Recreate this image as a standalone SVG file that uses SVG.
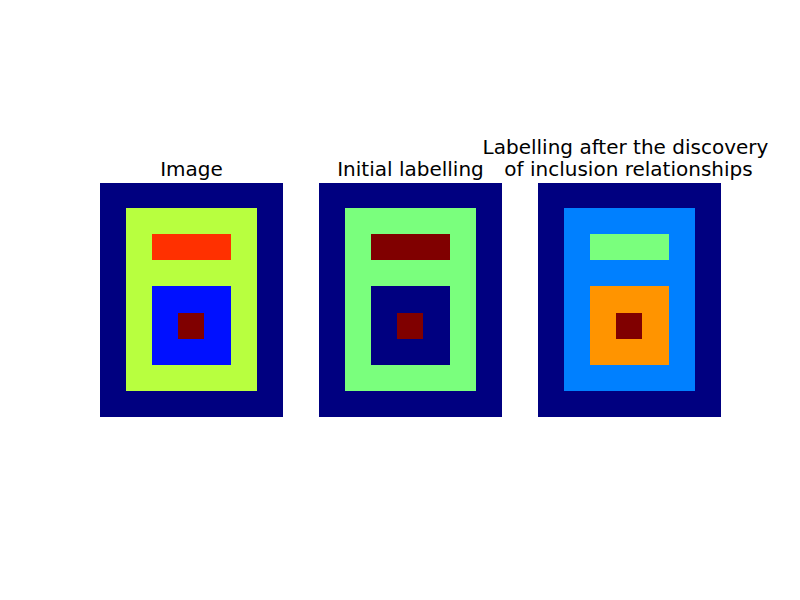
<svg xmlns="http://www.w3.org/2000/svg" width="800" height="600" viewBox="0 0 800 600">
<style>
text{font-family:"DejaVu Sans",sans-serif;font-size:20px;fill:#000;text-anchor:middle}
.n{fill:#000080}.dr{fill:#800000}
</style>
<rect width="800" height="600" fill="#fff"/>
<g id="image">
<text x="191.5" y="176">Image</text>
<rect class="n" x="100" y="183" width="183" height="234"/>
<rect fill="#b8ff3f" x="126" y="208" width="131" height="183"/>
<rect fill="#ff3000" x="152" y="234" width="79" height="26"/>
<rect fill="#0010ff" x="152" y="286" width="79" height="79"/>
<rect class="dr" x="178" y="313" width="26" height="26"/>
</g>
<g id="initial">
<text x="410.5" y="176">Initial labelling</text>
<rect class="n" x="319" y="183" width="183" height="234"/>
<rect fill="#7aff7d" x="345" y="208" width="131" height="183"/>
<rect class="dr" x="371" y="234" width="79" height="26"/>
<rect class="n" x="371" y="286" width="79" height="79"/>
<rect class="dr" x="397" y="313" width="26" height="26"/>
</g>
<g id="after">
<text x="625.5" y="154">Labelling after the discovery</text>
<text x="628.5" y="176">of inclusion relationships</text>
<rect class="n" x="538" y="183" width="183" height="234"/>
<rect fill="#0080ff" x="564" y="208" width="131" height="183"/>
<rect fill="#7aff7d" x="590" y="234" width="79" height="26"/>
<rect fill="#ff9400" x="590" y="286" width="79" height="79"/>
<rect class="dr" x="616" y="313" width="26" height="26"/>
</g>
<g id="connectors"/>
</svg>
